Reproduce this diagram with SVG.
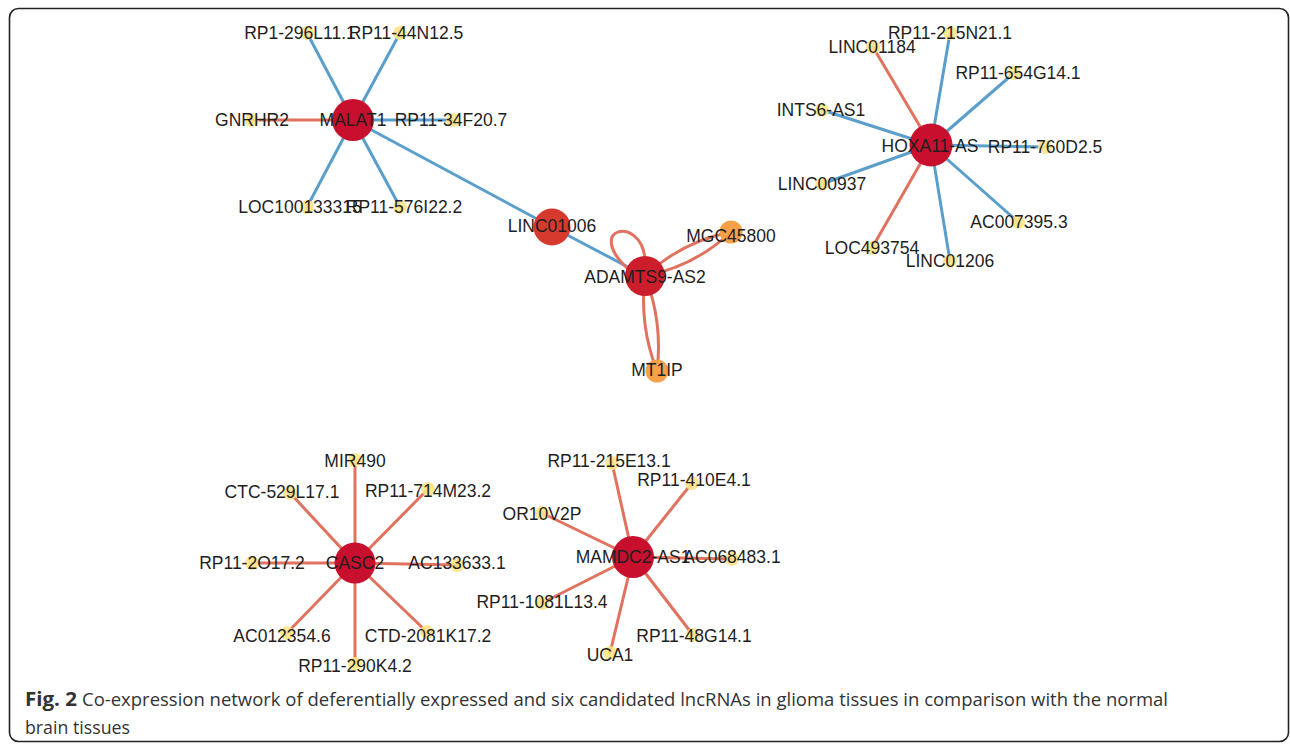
<svg xmlns="http://www.w3.org/2000/svg" width="1290" height="747" viewBox="0 0 1290 747">
<style>
  .eb { stroke:#5a9fcb; stroke-width:3; fill:none; stroke-linecap:round; }
  .er { stroke:#e0725f; stroke-width:3; fill:none; stroke-linecap:round; }
  .hub { fill:#c8102e; }
  .hub2 { fill:#d63a2e; }
  .org { fill:#f7a04a; }
  .sat { fill:#fde48a; opacity:0.9; }
  .lbl { font-family:"Liberation Sans", Arial, sans-serif; font-size:17.5px; fill:#1e1e1e; text-anchor:middle; }
  .cap { font-family:"Open Sans", "Liberation Sans", sans-serif; font-size:19px; fill:#333; }
</style>
<rect x="9.5" y="8.5" width="1279" height="733" rx="9" fill="#fff" stroke="#222" stroke-width="1.6"/>

<g id="connectors">
  <!-- MALAT1 -->
  <line class="eb" x1="353" y1="120" x2="307" y2="33"/>
  <line class="eb" x1="353" y1="120" x2="400" y2="33"/>
  <line class="er" x1="353" y1="120" x2="252" y2="120"/>
  <line class="eb" x1="353" y1="120" x2="453" y2="120"/>
  <line class="eb" x1="353" y1="120" x2="307" y2="207"/>
  <line class="eb" x1="353" y1="120" x2="400" y2="207"/>
  <line class="eb" x1="353" y1="120" x2="552" y2="227"/>
  <line class="eb" x1="552" y1="227" x2="645" y2="276"/>
  <!-- ADAMTS9-AS2 -->
  <path class="er" d="M645,258 C640,215 585,228 627,268"/>
  <path class="er" d="M645,276 Q681.6,241.6 731,232"/>
  <path class="er" d="M645,276 Q694.4,266.4 731,232"/>
  <path class="er" d="M645,276 Q639,325 657,371"/>
  <path class="er" d="M645,276 Q663,322 657,371"/>
  <!-- HOXA11-AS -->
  <line class="eb" x1="931" y1="145" x2="950" y2="33"/>
  <line class="er" x1="931" y1="145" x2="873" y2="47"/>
  <line class="eb" x1="931" y1="145" x2="1014" y2="73"/>
  <line class="eb" x1="931" y1="145" x2="822" y2="110"/>
  <line class="eb" x1="931" y1="145" x2="1045" y2="147"/>
  <line class="eb" x1="931" y1="145" x2="822" y2="184"/>
  <line class="eb" x1="931" y1="145" x2="1018" y2="222"/>
  <line class="er" x1="931" y1="145" x2="872" y2="248"/>
  <line class="eb" x1="931" y1="145" x2="950" y2="261"/>
  <!-- CASC2 -->
  <line class="er" x1="355" y1="563" x2="355" y2="460"/>
  <line class="er" x1="355" y1="563" x2="290" y2="493"/>
  <line class="er" x1="355" y1="563" x2="428" y2="489"/>
  <line class="er" x1="355" y1="563" x2="252" y2="563"/>
  <line class="er" x1="355" y1="563" x2="457" y2="565"/>
  <line class="er" x1="355" y1="563" x2="287" y2="633"/>
  <line class="er" x1="355" y1="563" x2="427" y2="632"/>
  <line class="er" x1="355" y1="563" x2="355" y2="664"/>
  <!-- MAMDC2-AS1 -->
  <line class="er" x1="633" y1="557" x2="612" y2="463"/>
  <line class="er" x1="633" y1="557" x2="692" y2="483"/>
  <line class="er" x1="633" y1="557" x2="542" y2="513"/>
  <line class="er" x1="633" y1="557" x2="732" y2="559"/>
  <line class="er" x1="633" y1="557" x2="542" y2="603"/>
  <line class="er" x1="633" y1="557" x2="693" y2="635"/>
  <line class="er" x1="633" y1="557" x2="610" y2="653"/>
</g>

<!-- hubs -->
<g id="n-MALAT1"><circle class="hub" cx="353" cy="120" r="21"/><text class="lbl" x="353" y="126">MALAT1</text></g>
<g id="n-LINC01006"><circle class="hub2" cx="552" cy="227" r="18.5"/><text class="lbl" x="552" y="232">LINC01006</text></g>
<g id="n-ADAMTS9-AS2"><circle class="hub" cx="645" cy="276" r="20" style="fill:#cc1d2b"/><text class="lbl" x="645" y="283">ADAMTS9-AS2</text></g>
<g id="n-MGC45800"><circle class="org" cx="731" cy="232" r="11.5"/><text class="lbl" x="731" y="242">MGC45800</text></g>
<g id="n-MT1IP"><circle class="org" cx="657" cy="371" r="11.5"/><text class="lbl" x="657" y="376">MT1IP</text></g>
<g id="n-HOXA11-AS"><circle class="hub" cx="931" cy="145" r="21.5"/><text class="lbl" x="930" y="152">HOXA11-AS</text></g>
<g id="n-CASC2"><circle class="hub" cx="355" cy="563" r="20.5"/><text class="lbl" x="355" y="569">CASC2</text></g>
<g id="n-MAMDC2-AS1"><circle class="hub" cx="633" cy="557" r="21"/><text class="lbl" x="633" y="563">MAMDC2-AS1</text></g>

<!-- MALAT1 satellites -->
<g id="n-RP1-296L11.1"><circle class="sat" cx="307" cy="33" r="7"/><text class="lbl" x="300" y="39">RP1-296L11.1</text></g>
<g id="n-RP11-44N12.5"><circle class="sat" cx="400" cy="33" r="7"/><text class="lbl" x="406" y="39">RP11-44N12.5</text></g>
<g id="n-GNRHR2"><circle class="sat" cx="252" cy="120" r="7"/><text class="lbl" x="252" y="126">GNRHR2</text></g>
<g id="n-RP11-34F20.7"><circle class="sat" cx="453" cy="120" r="7"/><text class="lbl" x="451" y="126">RP11-34F20.7</text></g>
<g id="n-LOC100133315"><circle class="sat" cx="307" cy="207" r="7"/><text class="lbl" x="300" y="213">LOC100133315</text></g>
<g id="n-RP11-576I22.2"><circle class="sat" cx="400" cy="207" r="7"/><text class="lbl" x="404" y="213">RP11-576I22.2</text></g>

<!-- HOXA11-AS satellites -->
<g id="n-RP11-215N21.1"><circle class="sat" cx="950" cy="33" r="7"/><text class="lbl" x="950" y="39">RP11-215N21.1</text></g>
<g id="n-LINC01184"><circle class="sat" cx="873" cy="47" r="7"/><text class="lbl" x="872" y="53">LINC01184</text></g>
<g id="n-RP11-654G14.1"><circle class="sat" cx="1014" cy="73" r="7"/><text class="lbl" x="1018" y="79">RP11-654G14.1</text></g>
<g id="n-INTS6-AS1"><circle class="sat" cx="822" cy="110" r="7"/><text class="lbl" x="821" y="116">INTS6-AS1</text></g>
<g id="n-RP11-760D2.5"><circle class="sat" cx="1045" cy="147" r="7"/><text class="lbl" x="1045" y="153">RP11-760D2.5</text></g>
<g id="n-LINC00937"><circle class="sat" cx="822" cy="184" r="7"/><text class="lbl" x="822" y="190">LINC00937</text></g>
<g id="n-AC007395.3"><circle class="sat" cx="1018" cy="222" r="7"/><text class="lbl" x="1019" y="228">AC007395.3</text></g>
<g id="n-LOC493754"><circle class="sat" cx="872" cy="248" r="7"/><text class="lbl" x="872" y="254">LOC493754</text></g>
<g id="n-LINC01206"><circle class="sat" cx="950" cy="261" r="7"/><text class="lbl" x="950" y="267">LINC01206</text></g>

<!-- CASC2 satellites -->
<g id="n-MIR490"><circle class="sat" cx="355" cy="460" r="7"/><text class="lbl" x="355" y="467">MIR490</text></g>
<g id="n-CTC-529L17.1"><circle class="sat" cx="290" cy="493" r="7"/><text class="lbl" x="282" y="498">CTC-529L17.1</text></g>
<g id="n-RP11-714M23.2"><circle class="sat" cx="428" cy="489" r="7"/><text class="lbl" x="428" y="497">RP11-714M23.2</text></g>
<g id="n-RP11-2O17.2"><circle class="sat" cx="252" cy="563" r="7"/><text class="lbl" x="252" y="569">RP11-2O17.2</text></g>
<g id="n-AC133633.1"><circle class="sat" cx="457" cy="565" r="7"/><text class="lbl" x="457" y="569">AC133633.1</text></g>
<g id="n-AC012354.6"><circle class="sat" cx="287" cy="633" r="7"/><text class="lbl" x="282" y="642">AC012354.6</text></g>
<g id="n-CTD-2081K17.2"><circle class="sat" cx="427" cy="632" r="7"/><text class="lbl" x="428" y="642">CTD-2081K17.2</text></g>
<g id="n-RP11-290K4.2"><circle class="sat" cx="355" cy="664" r="7"/><text class="lbl" x="355" y="672">RP11-290K4.2</text></g>

<!-- MAMDC2-AS1 satellites -->
<g id="n-RP11-215E13.1"><circle class="sat" cx="612" cy="463" r="7"/><text class="lbl" x="609" y="467">RP11-215E13.1</text></g>
<g id="n-RP11-410E4.1"><circle class="sat" cx="692" cy="483" r="7"/><text class="lbl" x="694" y="486">RP11-410E4.1</text></g>
<g id="n-OR10V2P"><circle class="sat" cx="542" cy="513" r="7"/><text class="lbl" x="542" y="520">OR10V2P</text></g>
<g id="n-AC068483.1"><circle class="sat" cx="732" cy="559" r="7"/><text class="lbl" x="732" y="563">AC068483.1</text></g>
<g id="n-RP11-1081L13.4"><circle class="sat" cx="542" cy="603" r="7"/><text class="lbl" x="542" y="608">RP11-1081L13.4</text></g>
<g id="n-RP11-48G14.1"><circle class="sat" cx="693" cy="635" r="7"/><text class="lbl" x="694" y="642">RP11-48G14.1</text></g>
<g id="n-UCA1"><circle class="sat" cx="610" cy="653" r="7"/><text class="lbl" x="610" y="661">UCA1</text></g>

<g id="caption">
  <text class="cap" x="25" y="706" font-weight="bold" textLength="52" lengthAdjust="spacingAndGlyphs">Fig. 2</text>
  <text class="cap" x="82" y="706" textLength="1086" lengthAdjust="spacingAndGlyphs">Co-expression network of deferentially expressed and six candidated lncRNAs in glioma tissues in comparison with the normal</text>
  <text class="cap" x="25" y="734" textLength="105" lengthAdjust="spacingAndGlyphs">brain tissues</text>
</g>
</svg>
